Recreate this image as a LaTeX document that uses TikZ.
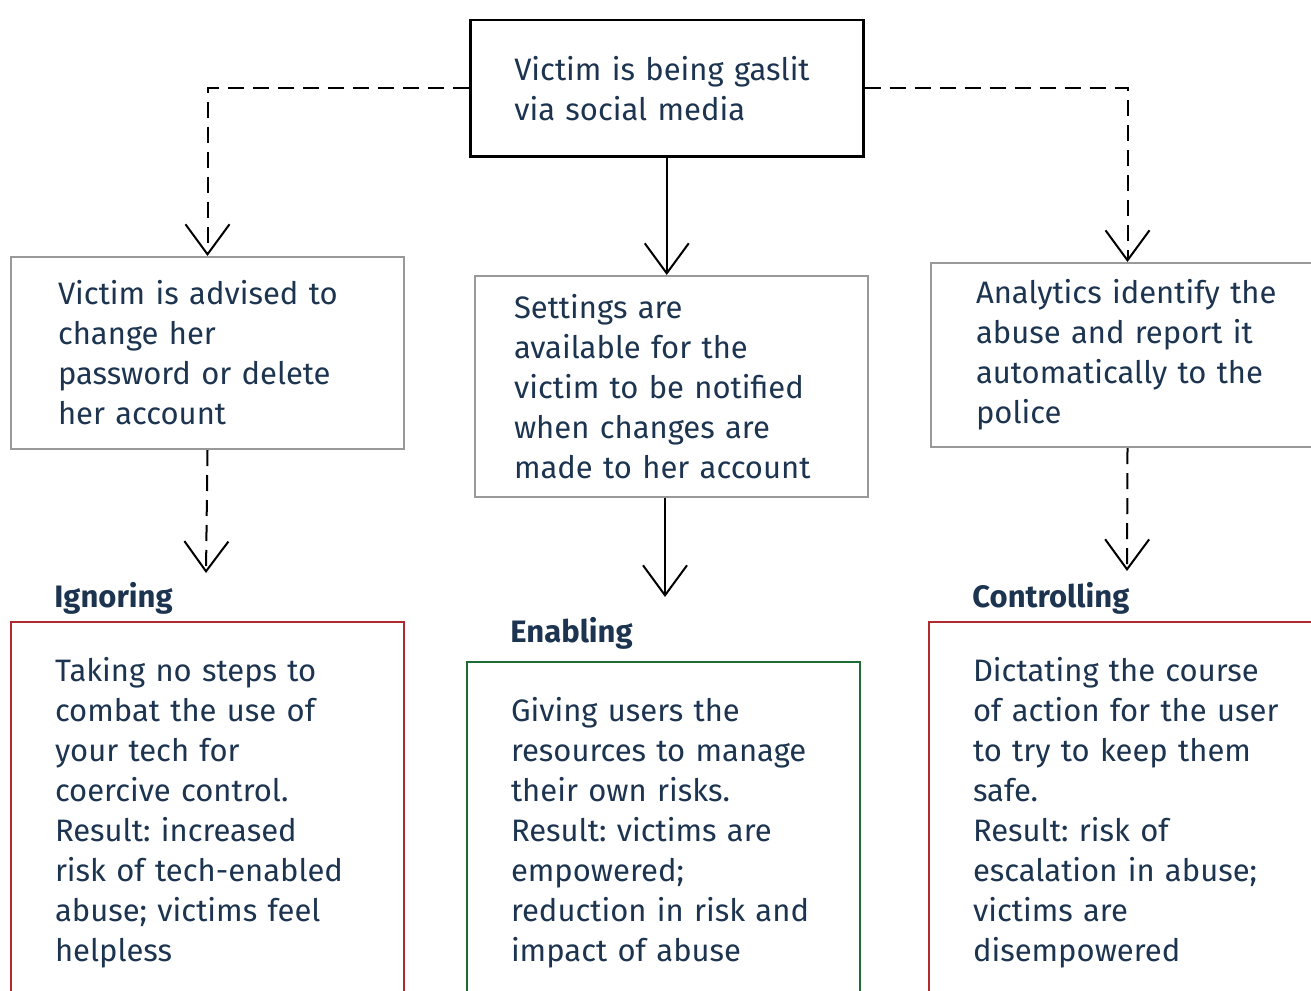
\documentclass[tikz,border=0pt]{standalone}
\usepackage{fontspec}
\setmainfont{Fira Sans}
\frenchspacing
\usetikzlibrary{arrows.meta}
\definecolor{navy}{HTML}{1C3450}
\definecolor{boxgray}{HTML}{999999}
\definecolor{badred}{HTML}{B22A2E}
\definecolor{goodgreen}{HTML}{1F6B34}
\begin{document}
\begin{tikzpicture}[x=0.5pt,y=-0.5pt,
  txt/.style={font=\fontsize{15.5pt}{20pt}\selectfont, text=navy, align=left},
  box/.style={txt, draw, rectangle, anchor=north west, minimum width=196.5pt, inner ysep=0pt},
  outcome/.style={txt, draw, line width=1pt, anchor=north west, minimum width=196.5pt, inner xsep=22pt, text width=152.5pt, inner ysep=17.5pt},
  tag/.style={font=\fontsize{15.5pt}{20pt}\selectfont\bfseries, text=navy, anchor=base west, inner sep=0pt},
  >={Straight Barb[length=15pt,width=22pt]}]
\useasboundingbox (0,0) rectangle (1311,990);

\node[box, line width=1.25pt, minimum height=68pt, inner xsep=22pt, text width=152.5pt] (gaslit) at (469,19) {Victim is being gaslit\\via social media};
\node[box, draw=boxgray, line width=1pt, minimum height=96pt, inner xsep=23.5pt, text width=149.5pt] (advise) at (10,256) {Victim is advised to\\change her\\password or delete\\her account};
\node[box, draw=boxgray, line width=1pt, minimum height=110.5pt, inner xsep=19.5pt, text width=157.5pt] (settings) at (474,275) {Settings are\\available for the\\victim to be notified\\when changes are\\made to her account};
\node[box, draw=boxgray, line width=1pt, minimum height=92pt, inner xsep=22.5pt, text width=151.5pt] (analytics) at (930,262) {Analytics identify the\\abuse and report it\\automatically to the\\police};

\node[tag] (ignT) at (54,607) {Ignoring};
\node[tag] (enaT) at (510,642) {Enabling};
\node[tag] (conT) at (972,607) {Controlling};

% the right column runs off the page, so its box may be wider
\node[outcome, draw=badred] (ign) at (10,621) {Taking no steps to\\combat the use of\\your tech for\\coercive control.\\Result: increased\\risk of tech-enabled\\abuse; victims feel\\helpless};
\node[outcome, draw=goodgreen] (ena) at (466,661) {Giving users the\\resources to manage\\their own risks.\\Result: victims are\\empowered;\\reduction in risk and\\impact of abuse};
\node[outcome, draw=badred, text width=170pt] (con) at (928,621) {Dictating the course\\of action for the user\\to try to keep them\\safe.\\Result: risk of\\escalation in abuse;\\victims are\\disempowered};

\coordinate (ignTip) at (206,573);
\coordinate (enaTip) at (665,597);
\coordinate (conTip) at (1127,571);

\path[draw,line width=1pt,dash pattern=on 8pt off 4.5pt,->] (gaslit.west) -| (advise.north);
\path[draw,line width=1pt,dash pattern=on 8pt off 4.5pt,->] (gaslit.east) -| (analytics.north);
\path[draw,line width=1pt,->] (gaslit.south) -- (gaslit.south |- settings.north);
\path[draw,line width=1pt,dash pattern=on 8pt off 4.5pt,->] (advise.south) -- (ignTip);
\path[draw,line width=1pt,->] (enaTip |- settings.south) -- (enaTip);
\path[draw,line width=1pt,dash pattern=on 8pt off 4.5pt,->] (analytics.south) -- (conTip);
\end{tikzpicture}
\end{document}
